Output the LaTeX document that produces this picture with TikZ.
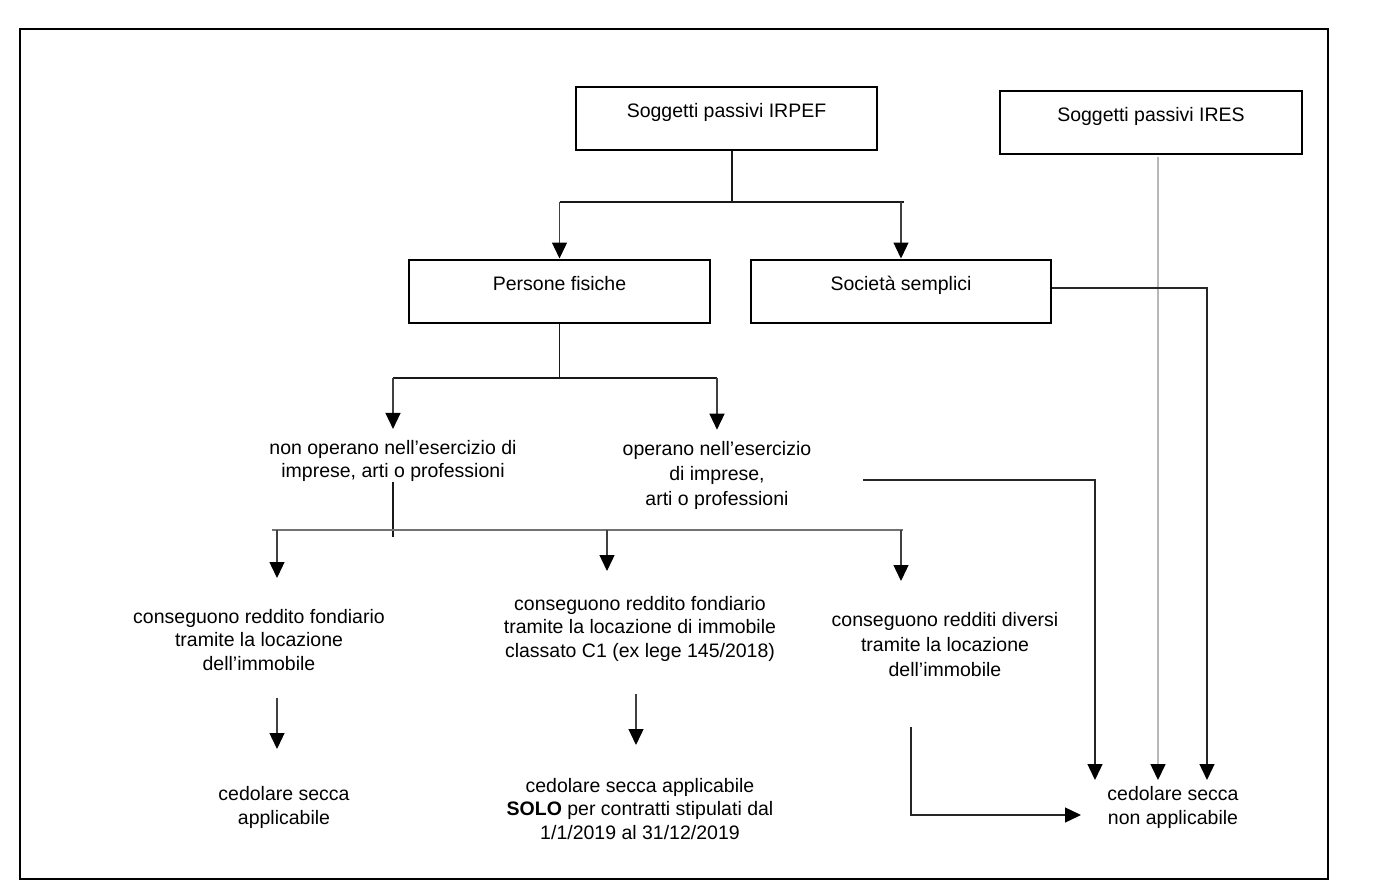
\documentclass[tikz,border=0pt]{standalone}
\usepackage{fontspec}
\setmainfont{Liberation Sans}
\usetikzlibrary{arrows.meta}

\tikzset{
    casella/.style={draw, line width=2pt, minimum width=301pt, inner sep=0pt,
        text height=31pt, text depth=32pt, font=\fontsize{19.5}{23.5}\selectfont},
    testo/.style={align=center, inner sep=0pt, font=\fontsize{19.5}{23.5}\selectfont},
    testolargo/.style={testo, font=\fontsize{19.5}{25}\selectfont},
    freccia/.style={-{Triangle[length=16pt,width=15pt,color=black]}, line width=1.3pt, draw=black!75},
    ramo/.style={line width=1.8pt, draw=black!90}
}

\begin{document}
\begin{tikzpicture}[x=1pt, y=-1pt]
    \useasboundingbox (0,0) rectangle (1382,892);
    \fill[white] (0,0) rectangle (1382,892);
    \draw[line width=2.2pt] (20,29) rectangle (1328,879);

    \node[casella] (irpef) at (726.5,118) {Soggetti passivi IRPEF};
    \node[casella, minimum width=302pt] (ires) at (1151,122) {Soggetti passivi IRES};
    \node[casella] (pf) at (559.5,291) {Persone fisiche};
    \node[casella, minimum width=300pt] (ss) at (901,291) {Società semplici};

    \node[testo] (nonop) at (393,461) {non operano nell’esercizio di\\imprese, arti o professioni};
    \node[testolargo] (op) at (717,475) {operano nell’esercizio\\di imprese,\\arti o professioni};

    \node[testo] (fond) at (259,640) {conseguono reddito fondiario\\tramite la locazione\\dell’immobile};
    \node[testo] (c1) at (640,628.5) {conseguono reddito fondiario\\tramite la locazione di immobile\\classato C1 (ex lege 145/2018)};
    \node[testolargo] (div) at (945,645) {conseguono redditi diversi\\tramite la locazione\\dell’immobile};

    \node[testo] (appl) at (284,807.5) {cedolare secca\\applicabile};
    \node[testo] (solo) at (640,809) {cedolare secca applicabile\\\textbf{SOLO} per contratti stipulati dal\\1/1/2019 al 31/12/2019};
    \node[testo] (nonappl) at (1173,807.5) {cedolare secca\\non applicabile};

    \coordinate (j1) at (732,202);
    \draw[ramo] (irpef.south -| j1) -- (j1);
    \draw[ramo] (pf.north |- j1) -- ([xshift=3pt]ss.north |- j1);
    \draw[freccia] (pf.north |- j1) -- (pf.north);
    \draw[freccia] (ss.north |- j1) -- (ss.north);

    \coordinate (j2) at (559.5,378);
    \draw[ramo] (pf.south) -- (j2);
    \draw[ramo] (nonop.north |- j2) -- (op.north |- j2);
    \draw[freccia] (nonop.north |- j2) -- ([yshift=11pt]nonop.north);
    \draw[freccia] (op.north |- j2) -- ([yshift=11pt]op.north);

    % ramo di chi non opera nell'esercizio di imprese
    \coordinate (j3) at (393,537);
    \coordinate (h3l) at (272,530);
    \coordinate (h3r) at (903,530);
    \draw[ramo] (nonop.south) -- (j3);
    \draw[ramo, draw=black!55] (h3l) -- (h3r);
    \coordinate (a1) at (277,578);
    \coordinate (a2) at (607,571);
    \coordinate (a3) at (901,581);
    \foreach \a in {a1,a2,a3}
        \draw[freccia] (\a |- h3l) -- (\a);

    \coordinate (b1s) at (277,698);
    \coordinate (b1) at (277,749);
    \coordinate (b2s) at (636,694);
    \coordinate (b2) at (636,745);
    \draw[freccia] (b1s) -- (b1);
    \draw[freccia] (b2s) -- (b2);

    % verso "non applicabile"
    \coordinate (d1) at (911,727);
    \coordinate (d2) at (911,815);
    \coordinate (d3) at (1081,815);
    \draw[freccia, draw=black!85] (d1) -- (d2) -- (d3);

    \coordinate (e1) at (863,480);
    \coordinate (e2) at (1095,480);
    \coordinate (e3) at (1095,780);
    \draw[freccia, draw=black!85] (e1) -- (e2) -- (e3);

    \coordinate (f1) at (1158,157);
    \coordinate (f2) at (1158,780);
    \draw[freccia, draw=black!28, line width=1.6pt] (f1) -- (f2);

    \coordinate (g1) at (1207,288);
    \coordinate (g2) at (1207,780);
    \draw[freccia, draw=black!85] (ss.east |- g1) -- (g1) -- (g2);
\end{tikzpicture}
\end{document}
